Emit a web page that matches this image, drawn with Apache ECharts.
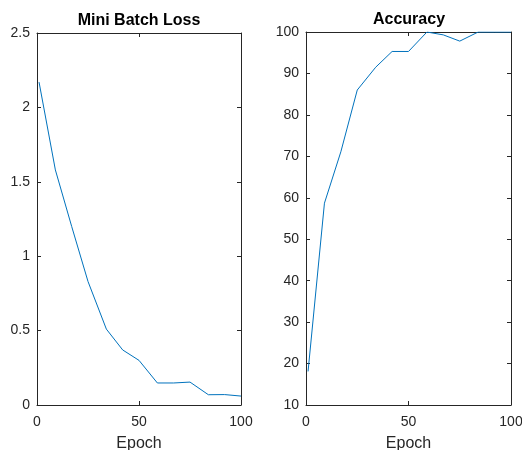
<!DOCTYPE html>
<html>
<head>
<meta charset="utf-8">
<script src="https://cdn.jsdelivr.net/npm/echarts@6/dist/echarts.min.js"></script>
<style>html,body{margin:0;padding:0;background:#fff}#c{width:522px;height:450px}</style>
</head>
<body>
<div id="c"></div>
<script>
const epochs = [1, 9, 17, 25, 34, 42, 50, 59, 67, 75, 84, 92, 100];
const lossValues = [2.17, 1.58, 1.2, 0.83, 0.51, 0.37, 0.30, 0.148, 0.148, 0.154, 0.069, 0.07, 0.06];
const accuracyValues = [18.1, 58.7, 71.1, 86.0, 91.5, 95.3, 95.3, 100, 99.3, 97.8, 100, 100, 100];
const titles = ['Mini Batch Loss', 'Accuracy'];
const xLabel = 'Epoch';

const axisColor = '#262626';
const font = 'Liberation Sans, Arial, Helvetica, sans-serif';
const lineColor = '#0072BD';

function pairs(xs, ys) { return xs.map((x, i) => [x, ys[i]]); }

const grids = [
  {left: 37, top: 33, width: 204, bottom: 45, outerBoundsMode: 'none', containLabel: false},
  {left: 306, top: 32, width: 205, bottom: 45, outerBoundsMode: 'none', containLabel: false}
];

function xAxes(gi) {
  const base = {
    type: 'value', gridIndex: gi, min: 0, max: 100, interval: 50,
    axisLine: {show: true, onZero: false, lineStyle: {color: axisColor, width: 1}},
    axisTick: {show: true, inside: true, length: 4, lineStyle: {color: axisColor}},
    splitLine: {show: false}
  };
  return [
    Object.assign({}, base, {
      position: 'bottom',
      axisLabel: {color: axisColor, fontFamily: font, fontSize: 14, margin: 10, showMinLabel: true, showMaxLabel: true},
      name: xLabel, nameLocation: 'middle', nameGap: 31,
      nameTextStyle: {color: axisColor, fontFamily: font, fontSize: 16}
    }),
    Object.assign({}, base, {position: 'top', axisLabel: {show: false}})
  ];
}

function yAxes(gi, min, max, interval) {
  const base = {
    type: 'value', gridIndex: gi, min: min, max: max, interval: interval,
    axisLine: {show: true, onZero: false, lineStyle: {color: axisColor, width: 1}},
    axisTick: {show: true, inside: true, length: 4, lineStyle: {color: axisColor}},
    splitLine: {show: false}
  };
  return [
    Object.assign({}, base, {position: 'left', axisLabel: {color: axisColor, fontFamily: font, fontSize: 14, margin: 7}}),
    Object.assign({}, base, {position: 'right', axisLabel: {show: false}})
  ];
}

const option = {
  animation: false,
  backgroundColor: '#ffffff',
  title: [
    {text: titles[0], left: 139, top: 13, padding: 0, textAlign: 'center',
     textStyle: {fontFamily: font, fontSize: 16, fontWeight: 'bold', color: '#000'}},
    {text: titles[1], left: 409, top: 12, padding: 0, textAlign: 'center',
     textStyle: {fontFamily: font, fontSize: 16, fontWeight: 'bold', color: '#000'}}
  ],
  grid: grids,
  xAxis: [...xAxes(0), ...xAxes(1)],
  yAxis: [...yAxes(0, 0, 2.5, 0.5), ...yAxes(1, 10, 100, 10)],
  series: [
    {type: 'line', xAxisIndex: 0, yAxisIndex: 0, data: pairs(epochs, lossValues),
     showSymbol: false, symbol: 'none', lineStyle: {color: lineColor, width: 1}, clip: true},
    {type: 'line', xAxisIndex: 2, yAxisIndex: 2, data: pairs(epochs, accuracyValues),
     showSymbol: false, symbol: 'none', lineStyle: {color: lineColor, width: 1}, clip: true}
  ]
};

const chart = echarts.init(document.getElementById('c'), null, {renderer: 'canvas'});
chart.setOption(option);
</script>
</body>
</html>
